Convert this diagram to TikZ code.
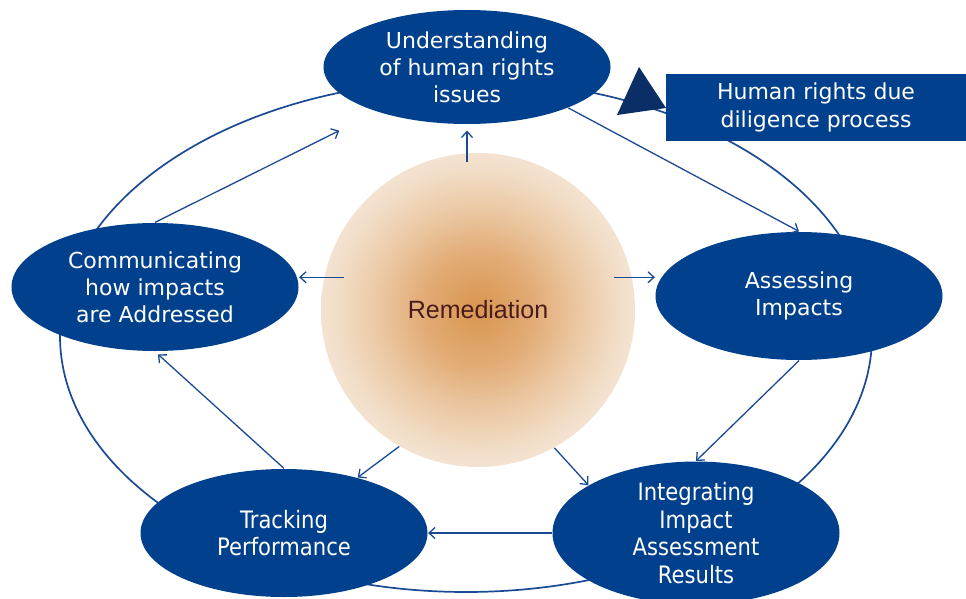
\documentclass[tikz,border=0pt]{standalone}
\usepackage{fontspec}
\setmainfont{DejaVu Sans}
\newfontfamily\remfont{Liberation Sans}
\newfontfamily\narrowfont[FakeStretch=0.88]{DejaVu Sans}
\usetikzlibrary{arrows.meta, shapes.geometric, calc}
\definecolor{cblue}{HTML}{00408C}
\definecolor{cnavy}{HTML}{0B2E66}
\definecolor{cline}{HTML}{1B4A94}
\definecolor{crem}{HTML}{4A1B1B}
\definecolor{corange}{HTML}{D9954F}
\definecolor{ctan}{HTML}{E2AC76}
\definecolor{cpeach}{HTML}{EBC8A3}
\definecolor{csand}{HTML}{F2DFCA}
\definecolor{cpale}{HTML}{F6ECE0}
\pgfdeclareradialshading{remglow}{\pgfpoint{0bp}{0bp}}{color(0bp)=(corange); color(9bp)=(ctan); color(16bp)=(cpeach); color(23bp)=(csand); color(30bp)=(cpale); color(50bp)=(cpale)}
\tikzset{
  every picture/.style={line width=1.2pt},
  stage/.style={ellipse, fill=cblue, text=white, align=center, inner sep=0pt, minimum width=287pt, minimum height=128pt, font=\fontsize{22}{27}\selectfont},
  flow/.style={-{Straight Barb[length=6pt, width=11pt]}, draw=cline, line width=1.3pt},
  ring/.style={draw=cline, line width=1.7pt},
  tag/.style={fill=cblue, text=white, align=center, minimum width=300pt, minimum height=67pt, inner sep=0pt, font=\fontsize{22}{28}\selectfont},
}

\begin{document}
\begin{tikzpicture}[x=1pt, y=-1pt,
    slim/.style={stage, font=\narrowfont\fontsize{24}{27.5}\selectfont},
  ]
  \useasboundingbox (0,0) rectangle (966,599);

  % outer cycle
  \draw[ring] (466,336) ellipse [x radius=406, y radius=256];

  \node[circle, minimum size=314pt, inner sep=0pt, shade, shading=remglow, text=crem, font=\remfont\fontsize{25}{30}\selectfont] (rem) at (478,310) {Remediation};

  \node[stage, minimum height=114pt] (under) at (467,67) {Understanding\\of human rights\\issues};
  \node[stage] (assess) at (799,296) {Assessing\\Impacts};
  \node[slim] (integ) at (696,533) {Integrating\\Impact\\Assessment\\Results};
  \node[slim] (track) at (284,533) {Tracking\\Performance};
  \node[stage] (comm) at (155,287) {Communicating\\how impacts\\are Addressed};

  \node[tag] (hrdd) at (816,107.5) {Human rights due\\diligence process};
  \fill[cnavy] (617,115) -- (639,67) -- (666,108) -- cycle;

  % steps round the cycle
  \draw[flow] (under.-22) -- (assess.north);
  \draw[flow] (assess.south) -- (integ.north);
  \draw[flow] (integ.west) -- (track.east);
  \draw[flow, shorten >=4pt] (track.north) -- (comm.south);
  \draw[flow, shorten >=42pt] (comm.north) -- (under);

  % remediation feeds every step
  \draw[flow, shorten <=-10pt, shorten >=6pt] (rem.north -| under.south) -- (under.south);
  \draw[flow, shorten <=-18pt] (rem.12) -- (rem.12 -| assess.west);
  \draw[flow] (rem.-61) -- (integ.156);
  \draw[flow] (rem.-120) -- (track.37);
  \draw[flow, shorten <=-20pt] (rem.168) -- (rem.168 -| comm.east);
\end{tikzpicture}
\end{document}
